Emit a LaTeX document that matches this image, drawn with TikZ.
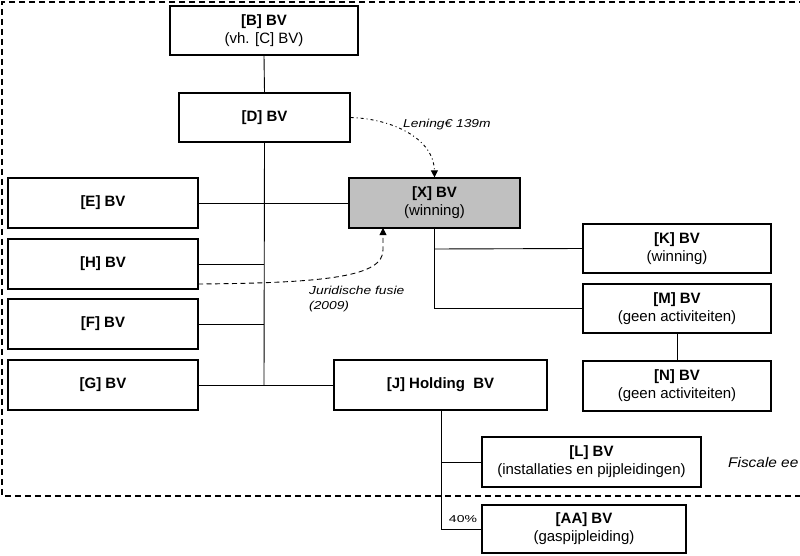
\documentclass[tikz,border=0pt]{standalone}
\usepackage{fontspec}
\setmainfont{Liberation Sans}
\usetikzlibrary{arrows.meta}
\tikzset{
  box/.style={draw, line width=1.3pt, minimum height=49pt, align=center, inner sep=0pt,
    font=\fontsize{15}{18}\selectfont},
  conn/.style={line width=0.9pt},
  lbl/.style={font=\fontsize{11.5}{15}\selectfont\itshape\addfontfeatures{FakeStretch=1.2}, inner sep=0pt},
  tip/.style={-{Triangle[width=7pt,length=7pt]}},
}
\begin{document}
\begin{tikzpicture}[x=1pt,y=-1pt]
\clip (0,0) rectangle (800,556);
\fill[white] (0,0) rectangle (800,556);
% frame
\draw[line width=1.2pt, dash pattern=on 6pt off 4pt] (815,2) -- (2,2) -- (2,496) -- (815,496);
% boxes
\node[box, minimum width=188pt] (B) at (264,30.5) {\textbf{[B] BV}\\(vh. [C] BV)};
\node[box, minimum width=171pt] (D) at (264.5,117.5) {\textbf{[D] BV}};
\node[box, minimum width=190pt, minimum height=50pt] (E) at (103,203) {\textbf{[E] BV}};
\node[box, minimum width=190pt, minimum height=50pt] (H) at (103,264) {\textbf{[H] BV}};
\node[box, minimum width=190pt, minimum height=50pt] (F) at (103,324) {\textbf{[F] BV}};
\node[box, minimum width=190pt, minimum height=50pt] (G) at (103,385) {\textbf{[G] BV}};
\node[box, minimum width=171pt, minimum height=50pt, fill={rgb,255:red,192;green,192;blue,192}] (X) at (434.5,203) {\textbf{[X] BV}\\(winning)};
\node[box, minimum width=213pt, minimum height=50pt] (J) at (440.5,385) {\textbf{[J] Holding~~BV}};
\node[box, minimum width=188pt] (K) at (677,248.5) {\textbf{[K] BV}\\(winning)};
\node[box, minimum width=188pt] (M) at (677,308.5) {\textbf{[M] BV}\\(geen activiteiten)};
\node[box, minimum width=188pt, minimum height=50pt] (N) at (677,386) {\textbf{[N] BV}\\(geen activiteiten)};
\node[box, minimum width=219pt, minimum height=50pt] (L) at (591.5,462) {\textbf{[L] BV}\\(installaties en pijpleidingen)};
\node[box, minimum width=204pt, minimum height=48pt] (AA) at (584,529) {\textbf{[AA] BV}\\(gaspijpleiding)};
% connectors
\coordinate (trunk) at (264,385);
\draw[conn] (B.south) -- (D.north);
\draw[conn] (D.south) -- (trunk);
\draw[conn] (E.east) -- (X.west);
\draw[conn] (H.east) -- (H.east -| trunk);
\draw[conn] (F.east) -- (F.east -| trunk);
\draw[conn] (G.east) -- (J.west);
\coordinate (xk) at (434,249);
\coordinate (xm) at (434,308.5);
\draw[conn] (X.south -| xk) -- (xm) -- (M.west);
\draw[conn] (xk) -- (K.west);
\draw[conn] (M.south) -- (N.north);
\coordinate (jl) at (441,462);
\coordinate (ja) at (441,529);
\draw[conn] (J.south -| jl) -- (ja) -- (AA.west);
\draw[conn] (jl) -- (L.west);
% special arrows
\draw[line width=0.9pt, dash pattern=on 3pt off 3pt on 1pt off 3pt, tip]
  (D.east) .. controls (395,119) and (434,140) .. (X.north);
\coordinate (hf) at (198,284);
\coordinate (xf) at (383,228);
\draw[line width=0.9pt, dash pattern=on 5pt off 3.5pt, tip]
  (hf) .. controls (330,283) and (383,276) .. (383,250) -- (xf);
% labels
\node[lbl, anchor=west] (len) at (403,125) {Lening€ 139m};
\node[lbl, anchor=north west, align=left] (jur) at (309,286) {Juridische fusie\\(2009)};
\node[font=\fontsize{10}{12}\selectfont\addfontfeatures{FakeStretch=1.4}, inner sep=0pt] (pct) at (463,519) {40\%};
\node[font=\fontsize{14}{16}\selectfont\itshape\addfontfeatures{FakeStretch=1.1}, inner sep=0pt, anchor=west] (fis) at (728,462) {Fiscale ee};
\end{tikzpicture}
\end{document}
